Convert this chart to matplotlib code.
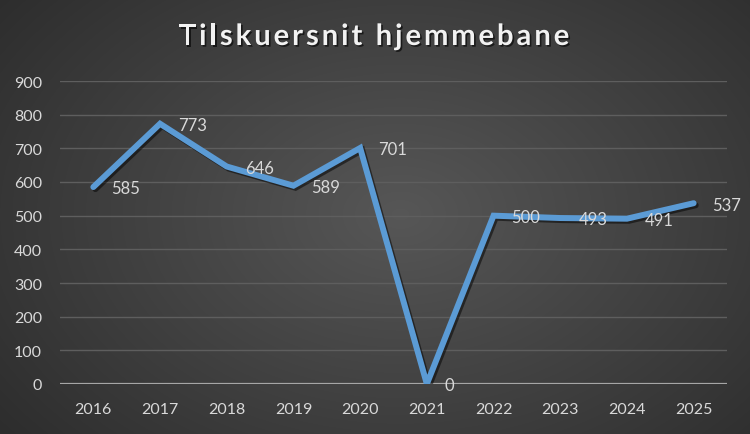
import numpy as np
import matplotlib
matplotlib.use("Agg")
import matplotlib.pyplot as plt
import matplotlib.patheffects as pe

years = ["2016", "2017", "2018", "2019", "2020", "2021", "2022", "2023", "2024", "2025"]
attendance = [585, 773, 646, 589, 701, 0, 500, 493, 491, 537]
y_ticks = [0, 100, 200, 300, 400, 500, 600, 700, 800, 900]
title = "Tilskuersnit hjemmebane"

plt.rcParams["font.family"] = ["Lato", "DejaVu Sans"]

fig = plt.figure(figsize=(7.5, 4.35), dpi=100)

# radial dark background
bg = fig.add_axes([0, 0, 1, 1], zorder=-10)
yy, xx = np.mgrid[0:435, 0:750]
cx, cy = 400, 215
r = np.sqrt(((xx - cx) / 520.0) ** 2 + ((yy - cy) / 360.0) ** 2)
shade = 0.34 - 0.20 * np.clip(r, 0, 1.2) / 1.2
img = np.dstack([shade, shade, shade])
bg.imshow(img, aspect="auto", extent=[0, 1, 0, 1], origin="upper")
bg.axis("off")

ax = fig.add_axes([60 / 750, 1 - 385 / 435, 667 / 750, (385 - 82) / 435])
ax.patch.set_alpha(0)
x = np.arange(len(years))
ax.set_xlim(-0.5, len(years) - 0.5)
ax.set_ylim(0, 900)

for s in ax.spines.values():
    s.set_visible(False)
ax.set_yticks(y_ticks)
ax.set_yticklabels([str(v) for v in y_ticks])
ax.set_xticks(x)
ax.set_xticklabels(years)
ax.tick_params(axis="both", length=0, colors="#d9d9d9", labelsize=11.5)
ax.tick_params(axis="y", pad=13)
ax.tick_params(axis="x", pad=13)
for v in y_ticks[1:]:
    ax.axhline(v, color="#5e5e5e", lw=1.0, zorder=1)
ax.axhline(0, color="#a6a6a6", lw=1.6, zorder=1)

ax.plot(x, attendance, color="#5b9bd5", lw=4.3, solid_capstyle="round",
        solid_joinstyle="miter", zorder=3,
        path_effects=[pe.SimpleLineShadow(offset=(1.5, -1.5), shadow_color="black", alpha=0.5),
                      pe.Normal()])

for xi, v in zip(x, attendance):
    ax.annotate(str(v), (xi, v), xytext=(13, -1), textcoords="offset points",
                ha="left", va="center", color="#d9d9d9", fontsize=12, zorder=4)

# letter-spaced title
title_style = dict(color="#f2f2f2", fontsize=21, fontweight="bold", va="center", ha="left",
                   path_effects=[pe.SimplePatchShadow(offset=(1.2, -1.2),
                                                      shadow_rgbFace="black", alpha=0.6),
                                 pe.Normal()])
spacing = 3.0
renderer = fig.canvas.get_renderer()
widths = []
for ch in title:
    t = fig.text(0, 0, ch if ch != " " else "n", **title_style)
    w = t.get_window_extent(renderer).width
    if ch == " ":
        w *= 0.45
    widths.append(w)
    t.remove()
total = sum(widths) + spacing * (len(title) - 1)
start = 374 - total / 2
ty = 1 - 38 / 435
pos = start
for ch, w in zip(title, widths):
    if ch != " ":
        fig.text(pos / 750, ty, ch, **title_style)
    pos += w + spacing

fig.savefig("out.png", dpi=100)
